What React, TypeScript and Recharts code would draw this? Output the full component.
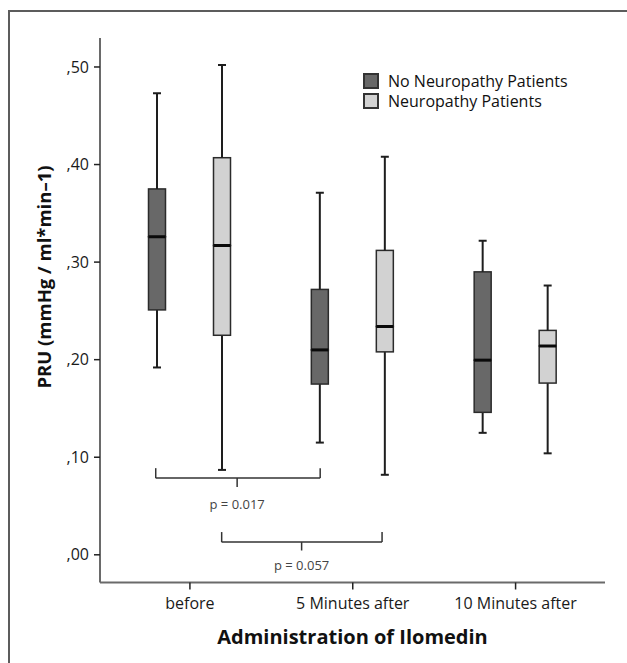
import React from 'react';
import { ComposedChart, Bar, XAxis, YAxis, ReferenceLine, ReferenceDot, Legend } from 'recharts';

const categories = ['before', '5 Minutes after', '10 Minutes after'];
const groups = ['No Neuropathy Patients', 'Neuropathy Patients'];
// each box: [min, q1, median, q3, max]
const noNeuropathy = [
  [0.192, 0.251, 0.326, 0.375, 0.473],
  [0.115, 0.175, 0.210, 0.272, 0.371],
  [0.125, 0.146, 0.1995, 0.290, 0.322],
];
const neuropathy = [
  [0.087, 0.225, 0.317, 0.407, 0.502],
  [0.082, 0.208, 0.234, 0.312, 0.408],
  [0.104, 0.176, 0.214, 0.230, 0.276],
];
const yTicks = [0, 0.1, 0.2, 0.3, 0.4, 0.5];
// significance brackets, x in category units (0 = before, 1 = 5 min, 2 = 10 min)
const bracketFrom = [-0.21, 0.195];
const bracketTo = [0.8, 1.18];
const bracketMid = [0.29, 0.686];
const bracketLevel = [0.0786, 0.013];
const bracketHook = [0.0888, 0.0233];
const bracketTip = [0.0694, 0.0044];
const bracketLabelY = [0.0512, -0.0113];
const bracketText = ['p = 0.017', 'p = 0.057'];

const FONT = "'Open Sans', 'DejaVu Sans', sans-serif";
const FILLS = ['#686868', '#d2d2d2'];
const EDGE = '#2b2b2b';

const data = categories.map((c, i) => {
  const a = noNeuropathy[i];
  const b = neuropathy[i];
  return {
    category: c,
    pos: i,
    aBase: a[0], aLow: a[1] - a[0], aBox1: a[2] - a[1], aBox2: a[3] - a[2], aHigh: a[4] - a[3],
    bBase: b[0], bLow: b[1] - b[0], bBox1: b[2] - b[1], bBox2: b[3] - b[2], bHigh: b[4] - b[3],
  };
});

const Empty = () => null;

const LowWhisker = (props: any) => {
  const { x, y, width, height } = props;
  const cx = x + width / 2;
  return (
    <g>
      <line x1={cx} x2={cx} y1={y} y2={y + height} stroke="#1e1e1e" strokeWidth={2} />
      <line x1={cx - 4} x2={cx + 4} y1={y + height} y2={y + height} stroke="#1e1e1e" strokeWidth={2} />
    </g>
  );
};

const HighWhisker = (props: any) => {
  const { x, y, width, height } = props;
  const cx = x + width / 2;
  return (
    <g>
      <line x1={cx} x2={cx} y1={y} y2={y + height} stroke="#1e1e1e" strokeWidth={2} />
      <line x1={cx - 4} x2={cx + 4} y1={y} y2={y} stroke="#1e1e1e" strokeWidth={2} />
    </g>
  );
};

const makeLowerBox = (fill: string) => (props: any) => {
  const { x, y, width, height } = props;
  return <rect x={x} y={y} width={width} height={height} fill={fill} stroke={EDGE} strokeWidth={1.5} />;
};

const makeUpperBox = (fill: string) => (props: any) => {
  const { x, y, width, height } = props;
  return (
    <g>
      <rect x={x} y={y} width={width} height={height} fill={fill} stroke={EDGE} strokeWidth={1.5} />
      <line x1={x} x2={x + width} y1={y + height} y2={y + height} stroke="#0a0a0a" strokeWidth={3} />
    </g>
  );
};

const yFormat = (v: number) => ',' + String(Math.round(v * 100)).padStart(2, '0');

const LegendContent = () => (
  <div style={{ fontFamily: FONT, fontSize: 16, color: '#111', lineHeight: '20px' }}>
    {groups.map((g, i) => (
      <div key={g} style={{ display: 'flex', alignItems: 'center', height: 20 }}>
        <span
          style={{
            display: 'inline-block',
            width: 12,
            height: 12,
            background: FILLS[i],
            border: '2px solid #333',
            marginRight: 9,
          }}
        />
        <span>{g}</span>
      </div>
    ))}
  </div>
);

export default function App() {
  return (
    <div style={{ position: 'absolute', left: 0, top: 0, width: 627, height: 663, overflow: 'hidden', background: '#fff' }}>
      <div
        style={{
          position: 'absolute',
          left: 8,
          top: 10,
          width: 700,
          height: 700,
          border: '2px solid #5c5c5c',
        }}
      />
      <div style={{ position: 'absolute', left: 0, top: 0 }}>
        <ComposedChart
          width={627}
          height={663}
          data={data}
          barSize={17}
          barGap={48}
          margin={{ top: 38, right: 22, left: 40, bottom: 50.5 }}
        >
          <XAxis
            dataKey="category"
            height={30}
            padding={{ left: 8.5, right: 8 }}
            axisLine={{ stroke: '#6a6a6a', strokeWidth: 2 }}
            tickLine={{ stroke: '#222', strokeWidth: 1.5 }}
            tickSize={7}
            tickMargin={8}
            tick={{ fontFamily: FONT, fontSize: 16, fill: '#1a1a1a' }}
            label={{
              content: () => (
                <text x={352.5} y={643.5} textAnchor="middle" fontFamily={FONT} fontSize={20} fontWeight="bold" fill="#111">
                  Administration of Ilomedin
                </text>
              ),
            }}
          />
          <XAxis
            xAxisId="num"
            dataKey="pos"
            type="number"
            domain={[-0.5, 2.5]}
            hide
            padding={{ left: 8.5, right: 8 }}
            allowDataOverflow
          />
          <YAxis
            type="number"
            width={60}
            domain={[-0.0284, 0.5297]}
            allowDataOverflow
            ticks={yTicks}
            tickFormatter={yFormat}
            axisLine={{ stroke: '#6a6a6a', strokeWidth: 2 }}
            tickLine={{ stroke: '#222', strokeWidth: 1.5 }}
            tickSize={6}
            tickMargin={5}
            tick={{ fontFamily: FONT, fontSize: 16, fill: '#1a1a1a' }}
            label={{
              content: () => (
                <text
                  x={0}
                  y={0}
                  transform="translate(50.5, 277) rotate(-90)"
                  textAnchor="middle"
                  fontFamily={FONT}
                  fontSize={18.5}
                  fontWeight="bold"
                  fill="#111"
                >
                  PRU (mmHg / ml*min–1)
                </text>
              ),
            }}
          />
          <Legend
            layout="vertical"
            align="center"
            verticalAlign="middle"
            wrapperStyle={{ top: 71, left: 363, width: 'auto', height: 'auto' }}
            content={<LegendContent />}
          />

          <Bar dataKey="aBase" stackId="a" shape={<Empty />} isAnimationActive={false} fill="none" />
          <Bar dataKey="aLow" stackId="a" shape={LowWhisker} isAnimationActive={false} />
          <Bar dataKey="aBox1" stackId="a" shape={makeLowerBox(FILLS[0])} isAnimationActive={false} />
          <Bar dataKey="aBox2" stackId="a" shape={makeUpperBox(FILLS[0])} isAnimationActive={false} />
          <Bar dataKey="aHigh" stackId="a" shape={HighWhisker} isAnimationActive={false} />

          <Bar dataKey="bBase" stackId="b" shape={<Empty />} isAnimationActive={false} fill="none" />
          <Bar dataKey="bLow" stackId="b" shape={LowWhisker} isAnimationActive={false} />
          <Bar dataKey="bBox1" stackId="b" shape={makeLowerBox(FILLS[1])} isAnimationActive={false} />
          <Bar dataKey="bBox2" stackId="b" shape={makeUpperBox(FILLS[1])} isAnimationActive={false} />
          <Bar dataKey="bHigh" stackId="b" shape={HighWhisker} isAnimationActive={false} />

          {bracketText.map((t, i) => (
            <ReferenceLine
              key={'h' + i}
              xAxisId="num"
              ifOverflow="visible"
              segment={[{ x: bracketFrom[i], y: bracketLevel[i] }, { x: bracketTo[i], y: bracketLevel[i] }]}
              stroke="#333"
              strokeWidth={1.5}
            />
          ))}
          {bracketText.map((t, i) => (
            <ReferenceLine
              key={'l' + i}
              xAxisId="num"
              ifOverflow="visible"
              segment={[{ x: bracketFrom[i], y: bracketLevel[i] }, { x: bracketFrom[i], y: bracketHook[i] }]}
              stroke="#333"
              strokeWidth={1.5}
            />
          ))}
          {bracketText.map((t, i) => (
            <ReferenceLine
              key={'r' + i}
              xAxisId="num"
              ifOverflow="visible"
              segment={[{ x: bracketTo[i], y: bracketLevel[i] }, { x: bracketTo[i], y: bracketHook[i] }]}
              stroke="#333"
              strokeWidth={1.5}
            />
          ))}
          {bracketText.map((t, i) => (
            <ReferenceLine
              key={'m' + i}
              xAxisId="num"
              ifOverflow="visible"
              segment={[{ x: bracketMid[i], y: bracketLevel[i] }, { x: bracketMid[i], y: bracketTip[i] }]}
              stroke="#333"
              strokeWidth={1.5}
            />
          ))}
          {bracketText.map((t, i) => (
            <ReferenceDot
              key={'t' + i}
              xAxisId="num"
              ifOverflow="visible"
              x={bracketMid[i]}
              y={bracketLabelY[i]}
              r={0}
              fill="none"
              stroke="none"
              label={{ value: t, position: 'center', fontFamily: FONT, fontSize: 13, fill: '#444' }}
            />
          ))}
        </ComposedChart>
      </div>
    </div>
  );
}
